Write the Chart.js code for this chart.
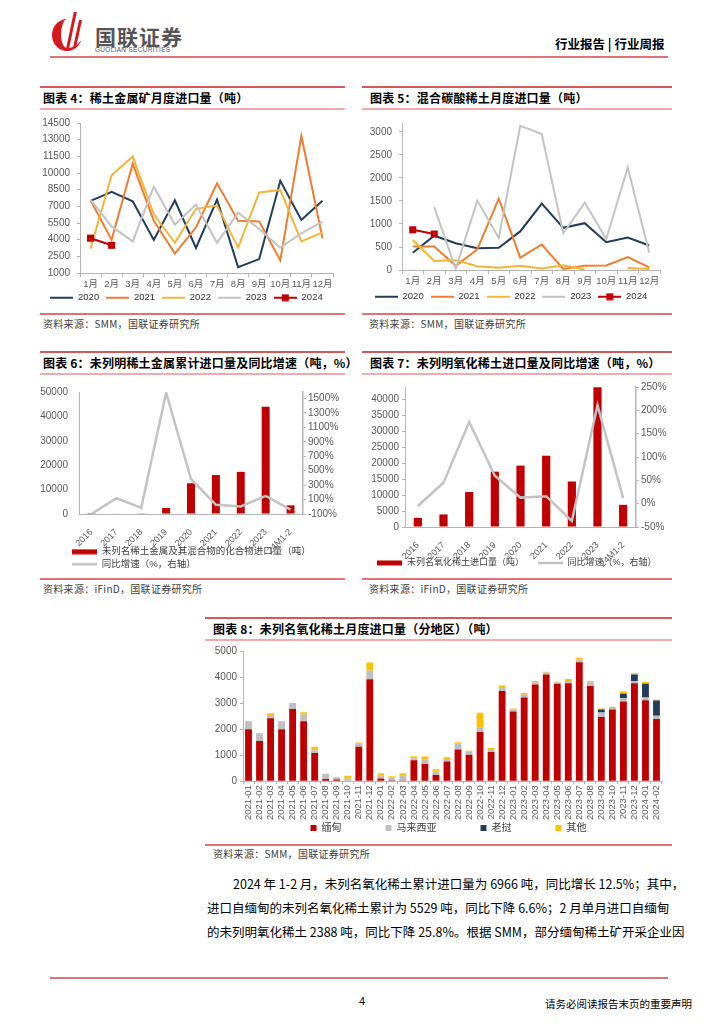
<!DOCTYPE html>
<html>
<head>
<meta charset="utf-8">
<script src="https://cdn.jsdelivr.net/npm/chart.js@4.4.1/dist/chart.umd.min.js"></script>
<style>
  body { margin: 0; width: 724px; height: 1024px; position: relative; background: #fff; overflow: hidden;
    font-family: "Noto Sans CJK SC", sans-serif; color: #000; }
  .abs { position: absolute; }
  .box { position: absolute; border-top: 2px solid #D45A5A; border-bottom: 2px solid #E27272; }
  .ttl { position: absolute; left: 0; right: 0; top: 0; height: 20px; line-height: 20px; padding-left: 3px;
    border-bottom: 2px solid #F2AAAA; font-size: 12px; font-weight: bold; letter-spacing: 0.2px; white-space: nowrap; }
  .wrap { position: absolute; }
  .src { position: absolute; font-size: 10px; color: #404040; letter-spacing: 0.3px; white-space: nowrap; }
  .txt { position: absolute; font-size: 12.5px; text-align: justify; text-align-last: justify; white-space: nowrap; }
</style>
</head>
<body>

<!-- header -->
<div class="abs" style="left:52px;top:19px;width:30px;height:32px;border-radius:50%;border-left:9px solid #D7191C;border-bottom:3px solid #D7191C;box-sizing:border-box;"></div>
<div class="abs" style="left:70px;top:12px;width:3px;height:36px;background:#D7191C;transform:skewX(-12deg);"></div>
<div class="abs" style="left:76px;top:20px;width:3px;height:28px;background:#D7191C;transform:skewX(-12deg);"></div>
<div class="abs" style="left:95px;top:21px;font-size:21px;font-weight:bold;color:#555;letter-spacing:1px;">国联证券</div>
<div class="abs" style="left:95px;top:46px;font-size:6.5px;color:#555;font-family:'Liberation Sans';letter-spacing:0.3px;">GUOLIAN SECURITIES</div>
<div class="abs" style="left:555px;top:34px;font-size:12.5px;font-weight:bold;">行业报告 | 行业周报</div>
<div class="abs" style="left:50px;top:56px;width:618px;height:2px;background:#E07474;"></div>

<!-- chart 4 -->
<div class="box" style="left:40px;top:86px;width:305px;height:225px;">
  <div class="ttl">图表 4：稀土金属矿月度进口量（吨）</div>
</div>
<div class="wrap" style="left:40px;top:110px;width:305px;height:200px;"><canvas id="c4"></canvas></div>
<div class="src" style="left:43px;top:316px;">资料来源：SMM，国联证券研究所</div>

<!-- chart 5 -->
<div class="box" style="left:362px;top:86px;width:310px;height:225px;">
  <div class="ttl" style="padding-left:8px;">图表 5：混合碳酸稀土月度进口量（吨）</div>
</div>
<div class="wrap" style="left:362px;top:110px;width:310px;height:200px;"><canvas id="c5"></canvas></div>
<div class="src" style="left:369px;top:316px;">资料来源：SMM，国联证券研究所</div>

<!-- chart 6 -->
<div class="box" style="left:40px;top:351px;width:305px;height:225px;">
  <div class="ttl">图表 6：未列明稀土金属累计进口量及同比增速（吨，%）</div>
</div>
<div class="wrap" style="left:40px;top:375px;width:305px;height:200px;"><canvas id="c6"></canvas></div>
<div class="src" style="left:43px;top:581px;">资料来源：iFinD，国联证券研究所</div>

<!-- chart 7 -->
<div class="box" style="left:362px;top:351px;width:310px;height:225px;">
  <div class="ttl" style="padding-left:8px;">图表 7：未列明氧化稀土进口量及同比增速（吨，%）</div>
</div>
<div class="wrap" style="left:362px;top:375px;width:310px;height:200px;"><canvas id="c7"></canvas></div>
<div class="src" style="left:369px;top:581px;">资料来源：iFinD，国联证券研究所</div>

<!-- chart 8 -->
<div class="box" style="left:205px;top:617px;width:467px;height:225px;">
  <div class="ttl" style="padding-left:8px;">图表 8：未列名氧化稀土月度进口量（分地区）（吨）</div>
</div>
<div class="wrap" style="left:205px;top:641px;width:467px;height:200px;"><canvas id="c8"></canvas></div>
<div class="src" style="left:213px;top:846px;">资料来源：SMM，国联证券研究所</div>

<!-- text -->
<div class="txt" style="left:233px;top:874px;width:429px;">2024 年 1-2 月，未列名氧化稀土累计进口量为 6966 吨，同比增长 12.5%；其中，</div>
<div class="txt" style="left:207px;top:898px;width:455px;">进口自缅甸的未列名氧化稀土累计为 5529 吨，同比下降 6.6%；2 月单月进口自缅甸</div>
<div class="txt" style="left:207px;top:922px;width:455px;">的未列明氧化稀土 2388 吨，同比下降 25.8%。根据 SMM，部分缅甸稀土矿开采企业因</div>

<!-- footer -->
<div class="abs" style="left:50px;top:977px;width:618px;height:2px;background:#E07474;"></div>
<div class="abs" style="left:359px;top:995px;font-size:11px;font-family:'Liberation Sans';">4</div>
<div class="abs" style="left:545px;top:996px;font-size:10.5px;">请务必阅读报告末页的重要声明</div>

<script>
// chart 4 - 稀土金属矿月度进口量
const months = ['1月', '2月', '3月', '4月', '5月', '6月', '7月', '8月', '9月', '10月', '11月', '12月'];
const ore2020 = [7500, 8300, 7450, 3990, 7550, 3260, 7600, 1530, 2260, 9300, 5780, 7500];
const ore2021 = [7550, 3990, 10830, 5700, 2760, 5110, 9070, 5700, 5640, 2150, 13330, 4140];
const ore2022 = [3200, 9800, 11480, 6280, 3730, 6780, 7080, 3290, 8250, 8480, 3850, 4670];
const ore2023 = [7600, 5200, 3850, 8780, 5350, 7170, 3730, 6430, 4960, 3290, 4580, 5640];
const ore2024 = [4140, 3500];
const oreTicks = [1000, 2500, 4000, 5500, 7000, 8500, 10000, 11500, 13000, 14500];

// chart 5 - 混合碳酸稀土
const mix2020 = [377, 746, 583, 476, 483, 839, 1443, 917, 1017, 604, 704, 533];
const mix2021 = [512, 512, 92, 448, 1550, 270, 555, 25, 92, 100, 284, 57];
const mix2022 = [654, 199, 213, 85, 50, 92, 36, 107, 14, null, 45, 25];
const mix2023 = [null, 1365, 21, 1507, 697, 3128, 2950, 796, 1464, 675, 2225, 377];
const mix2024 = [874, 782];
const mixTicks = [0, 500, 1000, 1500, 2000, 2500, 3000];

// chart 6 / 7 - 年度
const years = ['2016', '2017', '2018', '2019', '2020', '2021', '2022', '2023', '24M1-2'];
const metalQty = [30, 180, 120, 2480, 12600, 15970, 17270, 44000, 3550];
const metalYoy = [-100, 120, -15, 1580, 385, 27, 5, 150, -40];
const metalTicks = [0, 10000, 20000, 30000, 40000, 50000];
const metalPctTicks = [-100, 100, 300, 500, 700, 900, 1100, 1300, 1500];
const oxideQty = [2880, 3950, 10990, 17390, 19300, 22400, 14300, 43900, 6966];
const oxideYoy = [-5, 45, 175, 60, 13, 16, -37, 211, 12];
const oxideTicks = [0, 5000, 10000, 15000, 20000, 25000, 30000, 35000, 40000];
const oxidePctTicks = [-50, 0, 50, 100, 150, 200, 250];

// chart 8 - 分地区
const regionMonths = ['2021-01', '2021-02', '2021-03', '2021-04', '2021-05', '2021-06', '2021-07', '2021-08',
  '2021-09', '2021-10', '2021-11', '2021-12', '2022-01', '2022-02', '2022-03', '2022-04', '2022-05', '2022-06',
  '2022-07', '2022-08', '2022-09', '2022-10', '2022-11', '2022-12', '2023-01', '2023-02', '2023-03', '2023-04',
  '2023-05', '2023-06', '2023-07', '2023-08', '2023-09', '2023-10', '2023-11', '2023-12', '2024-01', '2024-02'];
const myanmar = [1990, 1545, 2420, 1990, 2775, 2300, 1085, 80, 65, 0, 1320, 3915, 105, 10, 20, 800, 655, 235,
  750, 1220, 1010, 1890, 1115, 3465, 2680, 3215, 3715, 4095, 3740, 3765, 4565, 3660, 2465, 2755, 3060, 3765, 3110, 2388];
const malaysia = [290, 285, 120, 290, 185, 265, 105, 195, 65, 90, 120, 340, 120, 140, 190, 80, 185, 135,
  105, 225, 120, 185, 80, 115, 75, 105, 75, 80, 50, 80, 105, 130, 175, 55, 130, 80, 105, 120];
const laos = [0, 0, 0, 0, 0, 0, 0, 0, 0, 0, 0, 0, 0, 0, 0, 0, 0, 0,
  0, 0, 0, 0, 0, 0, 0, 0, 0, 0, 0, 0, 0, 0, 115, 0, 170, 250, 525, 590];
const others = [30, 20, 65, 30, 40, 80, 130, 10, 30, 120, 40, 300, 75, 40, 90, 80, 105, 90,
  65, 50, 40, 550, 90, 95, 40, 65, 55, 25, 30, 80, 70, 55, 40, 50, 90, 50, 65, 40];
const regionTicks = [0, 1000, 2000, 3000, 4000, 5000];

const FONT = '"Liberation Sans", "Noto Sans CJK SC", sans-serif';
const AXIS = '#B4B4B4';
const TXT = '#595959';
const NAVY = '#1F3D5C';
const ORANGE = '#ED7D31';
const GOLD = '#F4B43A';
const GRAY = '#C3C3C3';
const RED = '#C00000';

Chart.defaults.font.family = FONT;
Chart.defaults.font.size = 10;
Chart.defaults.color = TXT;
Chart.defaults.animation = false;

function fixTicks(values) {
  return function (scale) {
    scale.ticks = values.map(function (v) { return { value: v }; });
  };
}
function plain(v) {
  return String(v);
}

// put the legend where the report has it, after chart.js did its layout
function legendAt(top, dx) {
  return {
    id: 'legendAt',
    afterLayout: function (chart) {
      const lg = chart.legend;
      lg.top = top;
      lg.left += dx || 0;
      lg.right += dx || 0;
    }
  };
}

// small legend pictures: a line, a line with a square, a flat bar
function lineIcon(color, withMarker, w, lw) {
  const c = document.createElement('canvas');
  c.width = w || 24;
  c.height = 8;
  const g = c.getContext('2d');
  g.strokeStyle = color;
  g.lineWidth = lw || 2;
  g.beginPath();
  g.moveTo(0, 4);
  g.lineTo(c.width, 4);
  g.stroke();
  if (withMarker) {
    g.fillStyle = color;
    g.fillRect(c.width / 2 - 3.5, 0.5, 7, 7);
  }
  return c;
}
function barIcon(color) {
  const c = document.createElement('canvas');
  c.width = 25;
  c.height = 6;
  const g = c.getContext('2d');
  g.fillStyle = color;
  g.fillRect(0, 0.5, 25, 5);
  return c;
}

function yearLines(el, series, colors, ticks, max, pad, legendTop) {
  const datasets = series.map(function (s, i) {
    const isLast = i === series.length - 1;
    return {
      label: String(2020 + i),
      data: s,
      borderColor: colors[i],
      backgroundColor: colors[i],
      borderWidth: 2,
      pointRadius: isLast ? 5 : 0,
      pointStyle: 'rect',
      pointBorderWidth: 0,
      order: series.length - i
    };
  });
  return new Chart(document.getElementById(el), {
    type: 'line',
    data: { labels: months, datasets: datasets },
    plugins: [legendAt(legendTop)],
    options: {
      responsive: true,
      maintainAspectRatio: false,
      layout: { padding: pad },
      plugins: {
        tooltip: { enabled: false },
        legend: {
          position: 'bottom',
          labels: {
            usePointStyle: true,
            pointStyleWidth: 23,
            padding: 7,
            color: '#333',
            font: { size: 9.5 },
            sort: function (a, b) { return a.datasetIndex - b.datasetIndex; },
            generateLabels: function (chart) {
              const items = Chart.defaults.plugins.legend.labels.generateLabels(chart);
              items.forEach(function (it) {
                it.pointStyle = lineIcon(colors[it.datasetIndex], it.datasetIndex === series.length - 1, 23);
              });
              return items;
            }
          }
        }
      },
      scales: {
        x: {
          offset: true,
          border: { color: AXIS },
          grid: { display: true, offset: true, drawOnChartArea: false, color: AXIS, tickLength: 4 },
          ticks: { color: TXT, padding: 2, autoSkip: false, maxRotation: 0, minRotation: 0, font: { size: 9.5 } }
        },
        y: {
          min: ticks[0],
          max: max,
          afterBuildTicks: fixTicks(ticks),
          afterFit: function (s) { s.width = 40; },
          border: { color: AXIS },
          grid: { drawOnChartArea: false, color: AXIS, tickLength: 3 },
          ticks: { color: TXT, padding: 7, autoSkip: false, callback: plain }
        }
      }
    }
  });
}

yearLines('c4', [ore2020, ore2021, ore2022, ore2023, ore2024], [NAVY, ORANGE, GOLD, GRAY, RED], oreTicks, 14500,
  { left: 0, right: 12, top: 8, bottom: -9 }, 176);
yearLines('c5', [mix2020, mix2021, mix2022, mix2023, mix2024], [NAVY, ORANGE, GOLD, GRAY, RED], mixTicks, 3190,
  { left: 0, right: 12, top: 11, bottom: -6 }, 175);

function barLine(el, qty, yoy, leftTicks, leftMax, pctTicks, pctMax, barLabel, lineLabel, opts) {
  return new Chart(document.getElementById(el), {
    type: 'bar',
    data: {
      labels: years,
      datasets: [
        {
          type: 'line',
          label: lineLabel,
          data: yoy,
          yAxisID: 'y1',
          borderColor: GRAY,
          borderWidth: 2.5,
          pointRadius: 0,
          order: 0
        },
        {
          label: barLabel,
          data: qty,
          yAxisID: 'y',
          backgroundColor: RED,
          barPercentage: 0.32,
          categoryPercentage: 1,
          order: 1
        }
      ]
    },
    plugins: [legendAt(opts.legendTop, opts.legendDx)],
    options: {
      responsive: true,
      maintainAspectRatio: false,
      layout: { padding: opts.padding },
      plugins: {
        tooltip: { enabled: false },
        legend: {
          position: 'bottom',
          align: opts.align,
          labels: {
            usePointStyle: true,
            pointStyleWidth: 25,
            padding: opts.legendPad,
            color: '#404040',
            font: { size: opts.legendFont },
            sort: function (a, b) { return b.datasetIndex - a.datasetIndex; },
            generateLabels: function (chart) {
              const items = Chart.defaults.plugins.legend.labels.generateLabels(chart);
              items.forEach(function (it) {
                it.pointStyle = it.datasetIndex === 1 ? barIcon(RED) : lineIcon(GRAY, false, 25, 2.5);
              });
              return items;
            }
          }
        }
      },
      scales: {
        x: {
          offset: true,
          afterFit: function (s) { s.height = 40; },
          border: { color: AXIS },
          grid: { display: false },
          ticks: { color: TXT, minRotation: 45, maxRotation: 45, padding: 5, autoSkip: false, font: { size: 9 } }
        },
        y: {
          position: 'left',
          min: 0,
          max: leftMax,
          afterBuildTicks: fixTicks(leftTicks),
          afterFit: function (s) { s.width = opts.leftWidth; },
          border: { color: AXIS },
          grid: { drawOnChartArea: false, drawTicks: opts.leftTick > 0, color: AXIS, tickLength: opts.leftTick },
          ticks: { color: TXT, padding: opts.leftPad, autoSkip: false, callback: plain }
        },
        y1: {
          position: 'right',
          min: pctTicks[0],
          max: pctMax,
          afterBuildTicks: fixTicks(pctTicks),
          afterFit: function (s) { s.width = opts.rightWidth; },
          border: { color: AXIS, width: 1.5 },
          grid: { drawOnChartArea: false, color: AXIS, tickLength: 3 },
          ticks: { color: TXT, padding: 2, autoSkip: false, callback: function (v) { return v + '%'; } }
        }
      }
    }
  });
}

barLine('c6', metalQty, metalYoy, metalTicks, 50000, metalPctTicks, 1590,
  '未列名稀土金属及其混合物的化合物进口量（吨）', '同比增速（%，右轴）',
  { padding: { left: 0, right: 0, top: 9, bottom: -14 }, align: 'start', legendPad: 3, legendFont: 9.5,
    legendTop: 169, legendDx: 29, leftWidth: 39, rightWidth: 42, leftTick: 0, leftPad: 11 });

barLine('c7', oxideQty, oxideYoy, oxideTicks, 44000, oxidePctTicks, 250,
  '未列名氧化稀土进口量（吨）', '同比增速（%，右轴）',
  { padding: { left: 0, right: 0, top: 12, bottom: -25 }, align: 'center', legendPad: 14, legendFont: 9,
    legendTop: 169.5, legendDx: 0, leftWidth: 43, rightWidth: 36, leftTick: 3, leftPad: 3 });

// chart 8 stacked bars
function stackSet(label, data, color) {
  return { label: label, data: data, backgroundColor: color, barPercentage: 0.62, categoryPercentage: 1 };
}
new Chart(document.getElementById('c8'), {
  type: 'bar',
  data: {
    labels: regionMonths,
    datasets: [
      stackSet('缅甸', myanmar, RED),
      stackSet('马来西亚', malaysia, '#BFBFBF'),
      stackSet('老挝', laos, NAVY),
      stackSet('其他', others, '#FFC000')
    ]
  },
  plugins: [legendAt(168, 15)],
  options: {
    responsive: true,
    maintainAspectRatio: false,
    layout: { padding: { left: 0, right: 10, top: 10, bottom: -14 } },
    plugins: {
      tooltip: { enabled: false },
      legend: {
        position: 'bottom',
        labels: {
          usePointStyle: true,
          pointStyle: 'rect',
          boxWidth: 6,
          boxHeight: 6,
          padding: 14,
          color: '#404040',
          font: { size: 10 },
          generateLabels: function (chart) {
            const items = Chart.defaults.plugins.legend.labels.generateLabels(chart);
            items.forEach(function (it, i) {
              if (i < items.length - 1) it.text += '\u3000\u3000\u3000';
            });
            return items;
          }
        }
      }
    },
    scales: {
      x: {
        stacked: true,
        offset: true,
        border: { color: AXIS },
        grid: { display: true, offset: true, drawOnChartArea: false, color: AXIS, tickLength: 3 },
        ticks: { color: TXT, minRotation: 90, maxRotation: 90, padding: 1, autoSkip: false, font: { size: 9.5 } }
      },
      y: {
        stacked: true,
        min: 0,
        max: 5000,
        afterBuildTicks: fixTicks(regionTicks),
        afterFit: function (s) { s.width = 38; },
        border: { color: AXIS },
        grid: { drawOnChartArea: false, color: AXIS, tickLength: 3 },
        ticks: { color: TXT, padding: 3, autoSkip: false, callback: plain }
      }
    }
  }
});
</script>
</body>
</html>
